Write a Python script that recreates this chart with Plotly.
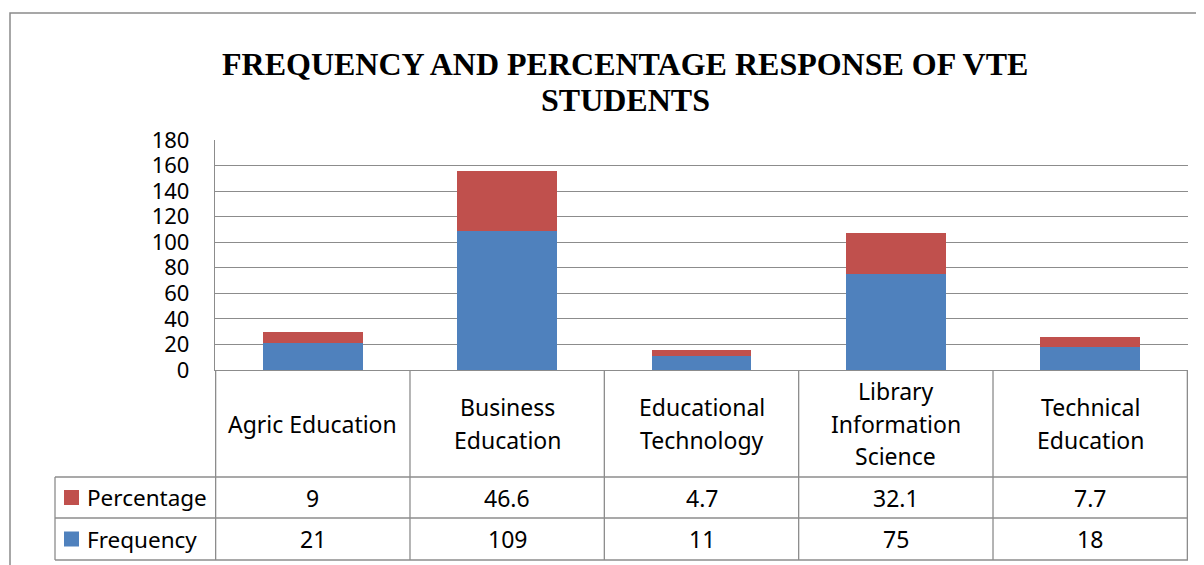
import plotly.graph_objects as go

# ---- data ----
categories = ["Agric Education", "Business Education", "Educational Technology",
              "Library Information Science", "Technical Education"]
header_labels = ["Agric Education", "Business<br>Education", "Educational<br>Technology",
                 "Library<br>Information<br>Science", "Technical<br>Education"]
frequency = [21, 109, 11, 75, 18]
percentage = [9, 46.6, 4.7, 32.1, 7.7]
series_names = ["Percentage", "Frequency"]
y_ticks = [0, 20, 40, 60, 80, 100, 120, 140, 160, 180]
title_text = "FREQUENCY AND PERCENTAGE RESPONSE OF VTE<br>STUDENTS"

W, H = 1204, 565
OFF = 8  # page body margin
BLUE = "#4F81BD"
RED = "#C0504D"
GRID = "#8C8C8C"
FONT = "Noto Sans"


def px(x):
    return (x - OFF) / W


def py(y):
    return 1 - (y - OFF) / H


fig = go.Figure()
fig.add_trace(go.Bar(x=categories, y=frequency, name="Frequency",
                     marker=dict(color=BLUE, line=dict(width=0))))
fig.add_trace(go.Bar(x=categories, y=percentage, name="Percentage",
                     marker=dict(color=RED, line=dict(width=0))))

plot_left, plot_right, plot_top, plot_bottom = 215, 1188, 140, 370
row1, row2, row3 = 477, 518, 560
legend_left = 55

shapes = []
line = dict(color=GRID, width=1.3)
# outer chart border
shapes.append(dict(type="rect", xref="paper", yref="paper", x0=px(10), x1=1.05,
                   y0=-0.05, y1=py(13), line=dict(color="#8A8A8A", width=1.5)))
# table vertical lines at category boundaries
for i in range(len(categories) + 1):
    shapes.append(dict(type="line", xref="x", yref="paper", x0=i - 0.5, x1=i - 0.5,
                       y0=py(row3), y1=py(plot_bottom), line=line))
# legend column left line
shapes.append(dict(type="line", xref="paper", yref="paper", x0=px(legend_left), x1=px(legend_left),
                   y0=py(row3), y1=py(row1), line=line))
for yy in (row1, row2, row3):
    shapes.append(dict(type="line", xref="paper", yref="paper", x0=px(legend_left), x1=px(plot_right),
                       y0=py(yy), y1=py(yy), line=line))
# legend keys
for name, color, (ra, rb) in [("Percentage", RED, (row1, row2)), ("Frequency", BLUE, (row2, row3))]:
    c = (ra + rb) / 2
    shapes.append(dict(type="rect", xref="paper", yref="paper", x0=px(64), x1=px(79),
                       y0=py(c + 7.5), y1=py(c - 7.5), fillcolor=color, line=dict(width=0)))

annotations = []
tfont = dict(family=FONT, size=23, color="#000000")
lfont = dict(family=FONT, size=22.5, color="#000000")
hdr_center = (plot_bottom + row1) / 2
hdr_step = 32.5
for i, lab in enumerate(header_labels):
    parts = lab.split("<br>")
    n = len(parts)
    for j, part in enumerate(parts):
        yy = hdr_center + (j - (n - 1) / 2) * hdr_step
        annotations.append(dict(x=categories[i], xref="x", y=py(yy), yref="paper",
                                text=part, showarrow=False, font=tfont, xanchor="center", yanchor="middle"))
for i in range(len(categories)):
    annotations.append(dict(x=categories[i], xref="x", y=py((row1 + row2) / 2), yref="paper",
                            text=f"{percentage[i]:g}", showarrow=False, font=tfont,
                            xanchor="center", yanchor="middle"))
    annotations.append(dict(x=categories[i], xref="x", y=py((row2 + row3) / 2), yref="paper",
                            text=f"{frequency[i]:g}", showarrow=False, font=tfont,
                            xanchor="center", yanchor="middle"))
annotations.append(dict(x=px(85), xref="paper", y=py((row1 + row2) / 2), yref="paper",
                        text=series_names[0], showarrow=False, font=lfont, xanchor="left", yanchor="middle"))
annotations.append(dict(x=px(85), xref="paper", y=py((row2 + row3) / 2), yref="paper",
                        text=series_names[1], showarrow=False, font=lfont, xanchor="left", yanchor="middle"))
for j, part in enumerate(title_text.split("<br>")):
    annotations.append(dict(x=px(625), xref="paper", y=py(64 + 36 * j), yref="paper",
                            text="<b>" + part + "</b>", showarrow=False, xanchor="center", yanchor="middle",
                            font=dict(family="Liberation Serif", size=32, color="#000000")))

fig.update_layout(
    template="none",
    width=W, height=H,
    margin=dict(l=0, r=0, t=0, b=0, pad=0, autoexpand=False),
    paper_bgcolor="white", plot_bgcolor="white",
    barmode="stack", bargap=0.486,
    showlegend=False,
    xaxis=dict(domain=[px(plot_left), px(plot_right)], showticklabels=False, ticks="",
               showgrid=False, showline=True, linecolor=GRID, linewidth=1.3, zeroline=False,
               automargin=False, fixedrange=True),
    yaxis=dict(domain=[py(plot_bottom), py(plot_top)], range=[0, 180], tickvals=y_ticks,
               ticktext=[str(v) for v in y_ticks], showgrid=True, gridcolor=GRID, gridwidth=1.3,
               showline=True, linecolor=GRID, linewidth=1.3, zeroline=False, ticks="",
               ticklabelstandoff=20, tickfont=dict(family=FONT, size=22, color="#000000"),
               automargin=False, fixedrange=True),
    shapes=shapes, annotations=annotations,
)

fig.write_html("out.html")
